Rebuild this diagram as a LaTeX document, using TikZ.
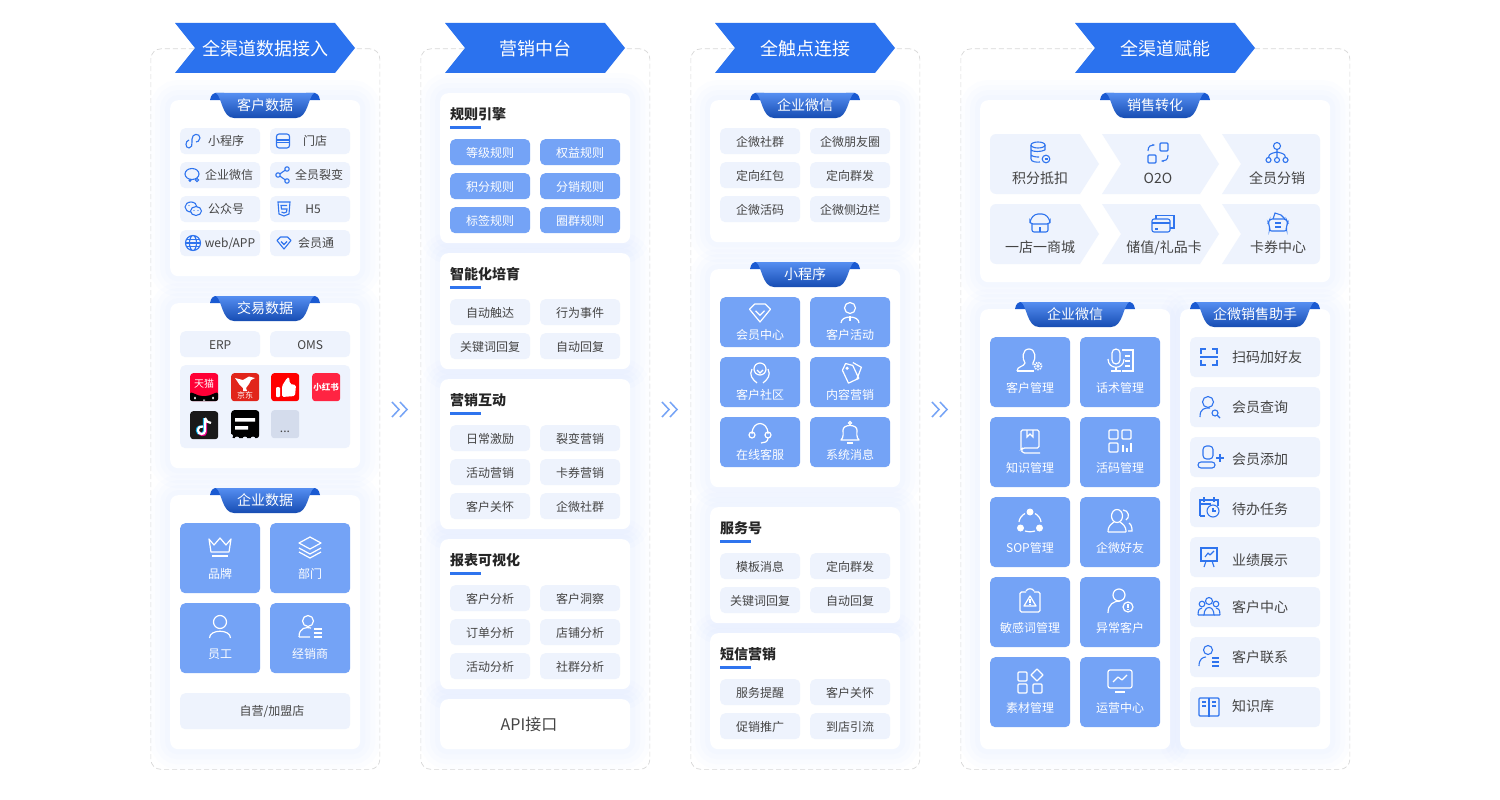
\documentclass[tikz,border=0pt]{standalone}
\usepackage{fontspec}
\setmainfont{Noto Sans CJK SC}
\usetikzlibrary{arrows.meta}
\definecolor{bannerblue}{HTML}{2B72EE}
\definecolor{tileblue}{HTML}{74A3F6}
\definecolor{tint}{HTML}{EEF3FD}
\definecolor{iconblue}{HTML}{2F74EE}
\definecolor{glowblue}{HTML}{C4D8FF}
\definecolor{inkgray}{HTML}{444444}
\definecolor{dashgray}{HTML}{D8D8D8}
\definecolor{ribbondark}{HTML}{1A5AD2}
\tikzset{
x=1pt, y=-1pt, % one unit is one pixel of the page
fs/.style={font=\fontsize{#1}{#1}\selectfont, text height=.88*#1 pt, text depth=.06*#1 pt},
panel/.style={draw=dashgray, dash pattern=on 5pt off 3pt, line width=.7pt, fill=white, rounded corners=10, anchor=north west, inner sep=0pt},
cardglow/.style={rounded corners=8, anchor=north west, inner sep=0pt, % soft glow behind each card
	preaction={draw=glowblue, line width=40pt, opacity=.04},
	preaction={draw=glowblue, line width=30pt, opacity=.05},
	preaction={draw=glowblue, line width=20pt, opacity=.05},
	preaction={draw=glowblue, line width=10pt, opacity=.06}},
card/.style={fill=white, rounded corners=8, anchor=north west, inner sep=0pt},
tile/.style={fill=tint, rounded corners=5, minimum width=80, minimum height=26, inner sep=0pt, anchor=north west, text=inkgray, fs=12},
btile/.style={tile, fill=tileblue, text=white},
bigtile/.style={btile, minimum height=70},
midtile/.style={btile, minimum height=50},
rowtile/.style={tile, minimum width=130, minimum height=40},
label/.style={text=inkgray, fs=12, inner sep=0pt},
wlabel/.style={text=white, fs=12, inner sep=0pt},
rowlabel/.style={text=inkgray, fs=14, inner sep=0pt, anchor=west},
arrowlabel/.style={text=inkgray, fs=14, inner sep=0pt},
heading/.style={text=black!85, fs=14, inner sep=0pt, anchor=west, font=\fontsize{14}{14}\selectfont\bfseries},
ico/.style={color=iconblue, line width=1.1pt},
wico/.style={color=white, line width=1.2pt},
logo/.style={minimum size=28, rounded corners=3, inner sep=0pt, anchor=north west},
% icons, drawn round their centre
icmini/.pic={\draw (-4,-1) .. controls (-8,0) and (-8,7) .. (-4,7) .. controls (-1,7) and (-1,4) .. (-1,1) -- (-1,-2) .. controls (-1,-8) and (7,-8) .. (7,-3) .. controls (7,0) and (4,1) .. (3,1);},
icstore/.pic={\draw[rounded corners=2.5] (-6.5,-7) rectangle (6.5,7); \draw (-6.5,-1) -- (6.5,-1) (-6.5,1.5) -- (6.5,1.5);},
icchat/.pic={\draw (0,-1) ellipse (7 and 5.5); \draw[fill=tint] (5,5) circle (1.6); \draw[fill=tint] (-2,5.5) circle (.9);},
icshare/.pic={\draw (-5,0) circle (2.2) (4,-6) circle (2.2) (4,6) circle (2.2); \draw (-3,-1.2) -- (2.2,-4.8) (-3,1.2) -- (2.2,4.8);},
icwx/.pic={\draw (-2,-2) ellipse (6 and 5); \draw[fill=tint] (3,2) ellipse (5.5 and 4.5); \fill (1,1.5) circle (.7) (5,1.5) circle (.7) (-4,-3.5) circle (.7);},
ich/.pic={\draw (-6,-7) -- (6,-7) -- (5,5) -- (0,7) -- (-5,5) -- cycle; \draw (3,-3.5) -- (-3,-3.5) -- (-2.5,0) -- (3,0) -- (2.5,3) -- (0,4) -- (-2.5,3);},
icglobe/.pic={\draw (0,0) circle (7.5) (0,0) ellipse (3.5 and 7.5); \draw (-7.5,0) -- (7.5,0) (-6.5,-3.5) -- (6.5,-3.5) (-6.5,3.5) -- (6.5,3.5);},
icgem/.pic={\draw[line join=round] (-7,-2.5) -- (-3.5,-6) -- (3.5,-6) -- (7,-2.5) -- (0,6) -- cycle; \draw (-3,-1.5) -- (0,1.5) -- (3,-1.5);},
iccrown/.pic={\draw[line join=round] (-11,-8) -- (-6,-2) -- (0,-9) -- (6,-2) -- (11,-8) -- (9,5) -- (-9,5) -- cycle; \draw (-8,9) -- (8,9);},
iclayers/.pic={\draw[line join=round] (0,-10) -- (11,-4) -- (0,2) -- (-11,-4) -- cycle; \draw (-11,1) -- (0,7) -- (11,1) (-11,5) -- (0,11) -- (11,5);},
icperson/.pic={\draw (0,-5) circle (6.5); \draw (-10.5,11) .. controls (-10.5,2) and (10.5,2) .. (10.5,11);},
icdealer/.pic={\draw (-2,-6) circle (5.5); \draw (-11,10) .. controls (-11,0) and (-3,0) .. (1,1) (-11,10) -- (0,10); \draw (4,2) -- (12,2) (4,6) -- (12,6) (4,10) -- (12,10);},
ictie/.pic={\draw (0,-5) circle (5.5); \draw (-9,10) .. controls (-9,2) and (9,2) .. (9,10); \draw (0,3) -- (0,8);},
ichands/.pic={\draw (0,-4) circle (6); \draw (-3,-3) -- (0,0) -- (3,-3); \draw (-8,-4) .. controls (-11,2) and (-8,6) .. (-3,10) (8,-4) .. controls (11,2) and (8,6) .. (3,10);},
ictags/.pic={\draw[line join=round, rotate=25] (-6,-6) -- (0,-11) -- (6,-6) -- (6,9) -- (-6,9) -- cycle; \draw (3,-11) -- (12,-6) -- (7,7); \draw (-3,-5) circle (1);},
icheadset/.pic={\draw (-8,1) .. controls (-8,-13) and (8,-13) .. (8,1); \draw (-8,2) circle (3) (8,2) circle (3); \draw (8,5) .. controls (8,9) and (4,10) .. (1,10);},
icbell/.pic={\draw[line join=round] (-9,7) .. controls (-6,4) and (-7,0) .. (-7,-3) .. controls (-7,-9) and (7,-9) .. (7,-3) .. controls (7,0) and (6,4) .. (9,7) -- cycle; \draw (0,-10) circle (1.5); \draw (-3,10) -- (3,10);},
icusergear/.pic={\draw (-13,10) .. controls (-13,5) and (-6,6) .. (-5,2) .. controls (-8,-2) and (-8,-12) .. (-1,-12) .. controls (6,-12) and (6,-2) .. (3,2) -- (3,4); \draw (-13,10) -- (4,10); \draw[dash pattern=on 1.4pt off 1pt, line width=1.6pt] (8,5) circle (3.6); \draw[line width=.8pt] (8,5) circle (1.3);},
icmicdoc/.pic={\draw[rounded corners=4] (-8,-12) rectangle (0,3); \draw (-12,-2) .. controls (-12,9) and (4,9) .. (4,-2); \draw (-4,6) -- (-4,10) (-9,10) -- (1,10); \draw (2,-11) -- (13,-11) -- (13,10) -- (2,10) (5,-5) -- (10,-5) (5,0) -- (10,0) (5,5) -- (10,5);},
icbookw/.pic={\draw[rounded corners=1.5] (-9,8) -- (-9,-11) -- (9,-11) -- (9,7) -- (-7,7) -- (-9,9) -- (-7,12) -- (10,12); \draw (-3,-11) -- (-3,-4) -- (0,-7) -- (3,-4) -- (3,-11);},
icqr/.pic={\draw[rounded corners=1] (-11,-11) rectangle (-2,-2) (2,-11) rectangle (11,-2) (-11,2) rectangle (-2,11); \draw (3,4) -- (3,11) (7,7) -- (7,11) (11,2) -- (11,11);},
icsop/.pic={\fill (0,-9) circle (3.5) (-9.5,7) circle (3.5) (9.5,7) circle (3.5); \draw (-5,-7.5) .. controls (-8,-6) and (-11,-2) .. (-11,1) (5,-7.5) .. controls (8,-6) and (11,-2) .. (11,1) (-5,10) .. controls (-2,11) and (2,11) .. (5,10);},
icfriends/.pic={\draw (-3,-5) ellipse (5.5 and 6.5); \draw (-12,11) .. controls (-12,4) and (-8,3) .. (-6,1) (0,1) .. controls (2,3) and (6,4) .. (6,11) (-12,11) -- (6,11); \draw (3,-11) .. controls (9,-11) and (10,-3) .. (6,-1) (9,2) .. controls (12,4) and (12,8) .. (12,10) -- (8,10);},
icalert/.pic={\draw[rounded corners=1.5] (-4,-9) -- (-10,-9) -- (-10,11) -- (10,11) -- (10,-9) -- (4,-9); \draw (-4,-10) .. controls (-3,-13) and (3,-13) .. (4,-10); \draw[line join=round] (0,-5) -- (6,5) -- (-6,5) -- cycle; \draw (0,-2) -- (0,1.5) (0,2.5) -- (0,3.5);},
icuseralert/.pic={\draw (-1,-6) circle (6); \draw (-12,12) .. controls (-12,3) and (-6,0) .. (0,0); \draw (8,6) circle (5); \draw[line width=1.6pt] (8,3) -- (8,6.5) (8,7.6) -- (8,9);},
icblocks/.pic={\draw[rounded corners=1] (-12,-9) rectangle (-3,0) (-12,3) rectangle (-3,12) (3,3) rectangle (12,12); \draw[line join=round] (7,-12) -- (13,-6) -- (7,0) -- (1,-6) -- cycle;},
icmonitor/.pic={\draw[rounded corners=2] (-12,-11) rectangle (12,7); \draw[line join=round] (-7,1) -- (-2,-4) -- (2,-1) -- (7,-6); \draw (-5,11) -- (5,11);},
icscan/.pic={\draw (-8,-3) -- (-8,-8) -- (-3,-8) (3,-8) -- (8,-8) -- (8,-3) (-8,3) -- (-8,8) -- (-3,8) (3,8) -- (8,8) -- (8,3) (-9,0) -- (9,0);},
icusersearch/.pic={\draw (-1,-5) circle (5.5); \draw (-9,10) .. controls (-9,1) and (-4,1) .. (1,1); \draw (6,6) circle (3); \draw (8,8) -- (11,11);},
icuseradd/.pic={\draw[rounded corners=3.5] (-6,-11) rectangle (4,2); \draw[rounded corners=3] (-11,5) rectangle (6,11); \draw (11,-3) -- (11,5) (7,1) -- (15,1);},
iccalendar/.pic={\draw (-9,9) -- (-9,-7) -- (9,-7) -- (9,-1) (-5,-10) -- (-5,-5) (5,-10) -- (5,-5) (-9,-3) -- (2,-3) (-9,9) -- (-4,9); \draw (4,4) circle (6); \draw (4,1) -- (4,4) -- (7,4);},
icpresent/.pic={\draw (-9,-9) -- (9,-9) (-8,-9) -- (-8,4) -- (8,4) -- (8,-9); \draw[line join=round] (-4,0) -- (-1,-4) -- (1,-2) -- (5,-6); \draw (-3,4) -- (-5,10) (3,4) -- (5,10);},
icgroup/.pic={\draw (0,-6) circle (3.5) (-7,-3) circle (2.8) (7,-3) circle (2.8); \draw (-5,8) .. controls (-5,-2) and (5,-2) .. (5,8) -- cycle; \draw (-11,8) .. controls (-11,2) and (-9,1) .. (-7,1) (11,8) .. controls (11,2) and (9,1) .. (7,1) (-11,8) -- (-5,8) (5,8) -- (11,8);},
icuserlist/.pic={\draw (-1,-7) circle (4.5); \draw (-10,9) .. controls (-10,2) and (-6,0) .. (-3,0); \draw[line width=1.5pt] (3,1) -- (10,1) (3,5) -- (10,5) (3,9) -- (10,9);},
icopenbook/.pic={\draw[rounded corners=1] (-10,-9) rectangle (10,9); \draw (0,-9) -- (0,10) (-7,-5) -- (-3,-5) (3,-5) -- (7,-5) (-7,-1) -- (-3,-1) (3,-1) -- (7,-1);},
icdb/.pic={\draw (-2,-8) ellipse (7 and 3); \draw (-9,-8) -- (-9,6) .. controls (-9,9) and (-3,9.5) .. (0,9) (5,-8) -- (5,-3) (-9,-3) .. controls (-7,-1) and (1,-1) .. (5,-3) (-9,2) .. controls (-7,4) and (-3,4) .. (-1,4); \draw (6,6) circle (3.8); \draw (4.5,6) -- (7.5,6);},
icotwo/.pic={\draw[rounded corners=1] (2,-10) rectangle (10,-2) (-10,2) rectangle (-2,10); \draw[-{Stealth[length=3pt]}] (-10,-2) .. controls (-10,-7) and (-7,-8) .. (-3,-8); \draw[-{Stealth[length=3pt]}] (10,2) .. controls (10,7) and (7,8) .. (3,8);},
icorg/.pic={\draw (0,-7) circle (3.5) (-8.5,7) circle (2.5) (0,7) circle (2.5) (8.5,7) circle (2.5); \draw (0,-3.5) -- (0,4.5) (-8.5,4.5) .. controls (-8.5,0) and (-3,0) .. (0,-1) (8.5,4.5) .. controls (8.5,0) and (3,0) .. (0,-1);},
icshop/.pic={\draw[rounded corners=2] (-8,0) -- (-8,9) -- (8,9) -- (8,0); \draw[rounded corners=3] (-5,-9) -- (5,-9) -- (10,-3) -- (10,1) -- (-10,1) -- (-10,-3) -- cycle; \draw (0,9) -- (0,4);},
iccards/.pic={\draw[rounded corners=2] (-11,-4) rectangle (7,9); \draw (-11,0) -- (7,0); \draw (-7,-4) -- (-7,-7.5) -- (11,-7.5) -- (11,5) -- (7,5); \fill (-8,5) rectangle (-5,6.5);},
icwallet/.pic={\draw[rounded corners=2.5] (-8,-3) -- (8,-3) -- (10,1) -- (8,5) -- (9,9) -- (-9,9) -- (-8,5) -- (-10,1) -- cycle; \draw (-5,-3) -- (-3,-9) -- (3,-7) -- (7,-3); \draw (-3,1) -- (3,1) (-3,5) -- (3,5);},
% double chevron between columns
dblchev/.pic={\draw[color=tileblue, line width=1.5pt] (-8,-7.5) -- (-1,0) -- (-8,7.5) (0,-7.5) -- (7,0) -- (0,7.5);},
}
% banner over a column: centre x, text
\newcommand{\banner}[3]{
	\fill[bannerblue] (#2-90,23) -- (#2+70,23) -- (#2+90,48) -- (#2+70,73) -- (#2-90,73) -- (#2-70,48) -- cycle;
	\node[text=white, fs=18, inner sep=0pt] (#1) at (#2,48) {#3};
}
% ribbon on top of a card: centre x, half width, top y, text
\newcommand{\ribbon}[5]{
	\fill[ribbondark] (#2-#3,#4+7) .. controls (#2-#3+1,#4+2) and (#2-#3+3,#4) .. (#2-#3+5,#4) -- (#2-#3+14,#4) -- (#2-#3+14,#4+7) -- cycle;
	\fill[ribbondark] (#2+#3,#4+7) .. controls (#2+#3-1,#4+2) and (#2+#3-3,#4) .. (#2+#3-5,#4) -- (#2+#3-14,#4) -- (#2+#3-14,#4+7) -- cycle;
	\shade[top color=bannerblue!80!white, bottom color=ribbondark!85!black] (#2-#3+6,#4) -- (#2+#3-6,#4) .. controls (#2+#3-12,#4+4) and (#2+#3-12,#4+25) .. (#2+#3-24,#4+25) -- (#2-#3+24,#4+25) .. controls (#2-#3+12,#4+25) and (#2-#3+12,#4+4) .. (#2-#3+6,#4) -- cycle;
	\node[text=white, fs=14, inner sep=0pt] (#1) at (#2,#4+12) {#5};
}
\begin{document}
\begin{tikzpicture}
	\useasboundingbox (0,0) rectangle (1500,800);
	\fill[white] (0,0) rectangle (1500,800);
	% dashed panels
	\node[panel, minimum width=229, minimum height=720.5] (colA) at (150.5,48.5) {};
	\node[panel, minimum width=229, minimum height=720.5] (colB) at (420.5,48.5) {};
	\node[panel, minimum width=229, minimum height=720.5] (colC) at (690.5,48.5) {};
	\node[panel, minimum width=389, minimum height=720.5] (colD) at (960.5,48.5) {};
	\banner{banA}{265}{全渠道数据接入}
	\banner{banB}{535}{营销中台}
	\banner{banC}{805}{全触点连接}
	\banner{banD}{1165}{全渠道赋能}
	\foreach \gx in {400,670,940}
		\pic at (\gx,409.5) {dblchev};

	% cards, all glows first so that none falls on a card
	\foreach \nm/\cx/\cy/\cw/\ch in {cardA1/170/100/190/176, cardA2/170/303/190/165, cardA3/170/495/190/254,
		cardB1/440/93/190/150, cardB2/440/253/190/116, cardB3/440/379/190/150, cardB4/440/539/190/150, cardB5/440/699/190/50,
		cardC1/710/100/190/142, cardC2/710/269/190/218, cardC3/710/507/190/116, cardC4/710/633/190/116,
		cardD1/980/100/350/182, cardD2/980/309/190/440, cardD3/1180/309/150/440}
		\node[cardglow, minimum width=\cw, minimum height=\ch] (\nm g) at (\cx,\cy) {};
	\foreach \nm/\cx/\cy/\cw/\ch in {cardA1/170/100/190/176, cardA2/170/303/190/165, cardA3/170/495/190/254,
		cardB1/440/93/190/150, cardB2/440/253/190/116, cardB3/440/379/190/150, cardB4/440/539/190/150, cardB5/440/699/190/50,
		cardC1/710/100/190/142, cardC2/710/269/190/218, cardC3/710/507/190/116, cardC4/710/633/190/116,
		cardD1/980/100/350/182, cardD2/980/309/190/440, cardD3/1180/309/150/440}
		\node[card, minimum width=\cw, minimum height=\ch] (\nm) at (\cx,\cy) {};

	% first column
	\ribbon{ribA1}{265}{55}{93}{客户数据}
	\ribbon{ribA2}{265}{55}{296}{交易数据}
	\ribbon{ribA3}{265}{55}{488}{企业数据}
	\foreach \nm/\px/\py/\lx/\lb/\ic/\ix in {a1/180/128/226/小程序/icmini/193, a2/270/128/315/门店/icstore/283,
		a3/180/162/229/企业微信/icchat/192, a4/270/162/319/全员裂变/icshare/283,
		a5/180/196/226/公众号/icwx/193, a6/270/196/313/H5/ich/284,
		a8/270/230/316/会员通/icgem/284}{
		\node[tile] (\nm) at (\px,\py) {};
		\node[label] (\nm t) at (\lx,\py+13) {\lb};
		\pic[ico] at (\ix,\py+13) {\ic};
	}
	\node[tile] (a7) at (180,230) {};
	\node[label] (a7t) at (230,243) {web/APP};
	\pic[ico] at (193,243) {icglobe};
	\node[tile] (erp) at (180,331) {ERP};
	\node[tile] (oms) at (270,331) {OMS};
	\node[tile, minimum width=170, minimum height=83] (shops) at (180,365) {};
	\node[logo, fill={rgb,255:red,255;green,0;blue,54}] (tmall) at (190,373) {};
	\fill[black] (190,401) [rounded corners=2] -- (190,392) -- (194,393.5) -- (200,396) -- (208,396) -- (214,393.5) -- (218,392) -- (218,401) -- cycle;
	\fill[white] (195,398) ellipse (1 and 1.5) (213,398) ellipse (1 and 1.5) (203,399.5) rectangle (205,400.5);
	\node[text=white, inner sep=0pt, fs=10] (tmallt) at (204,383) {天猫};
	\node[logo, fill={rgb,255:red,225;green,37;blue,27}] (jd) at (231,373) {};
	\fill[white] (235,378) -- (243,380) -- (249,376.5) -- (255,378) -- (251,380) -- (249,384) -- (246,388) -- (247,391) -- (243,391) -- (243,388) -- (239,384) -- cycle;
	\node[text=white, inner sep=0pt, fs=8] (jdt) at (245,395) {京东};
	\node[logo, fill=red] (thumb) at (271,373) {};
	\fill[white, rounded corners=1] (276,387) rectangle (280,397);
	\fill[white, rounded corners=1.5] (282,386) -- (287,378) -- (289,377) -- (290,384) -- (296,385) -- (295,396) -- (282,397) -- cycle;
	\node[logo, fill={rgb,255:red,255;green,36;blue,66}] (redbook) at (312,373) {};
	\node[text=white, inner sep=0pt, fs=8.5, font=\fontsize{8.5}{8.5}\selectfont\bfseries] (redbookt) at (326,387) {小红书};
	\node[logo, fill=black!90] (tiktok) at (190,411) {};
	\draw[cyan, line width=2.4pt] (204,418) -- (204,431) .. controls (204,435) and (197,435) .. (197,430.5) .. controls (197,427) and (200,426) .. (202,426.5);
	\draw[magenta, line width=2.4pt] (206,419) -- (206,432) .. controls (206,436) and (199,436) .. (199,431.5);
	\draw[white, line width=2.2pt] (205,418) -- (205,431) .. controls (205,435) and (198,435) .. (198,430.5) .. controls (198,427) and (201,426) .. (203,426.5) (205,418) .. controls (206,421) and (208,423) .. (211,423);
	\node[logo, fill=black] (receipt) at (231,410) {};
	\fill[tint] (231,436) circle (2) (237,439) circle (2.4) (245,439) circle (2.4) (253,439) circle (2.4);
	\fill[white] (235,418) rectangle (255,421.5) (235,426) rectangle (248,429.5);
	\node[logo, fill={rgb,255:red,212;green,220;blue,236}] (more) at (271,410) {};
	\node[text=inkgray, inner sep=0pt, fs=12] (moret) at (285,428) {...};
	\foreach \nm/\px/\py/\lb/\ic in {a9/180/523/品牌/iccrown, a10/270/523/部门/iclayers, a11/180/603/员工/icperson, a12/270/603/经销商/icdealer}{
		\node[bigtile] (\nm) at (\px,\py) {};
		\node[wlabel] (\nm t) at (\px+40,\py+51) {\lb};
		\pic[wico] at (\px+40,\py+24) {\ic};
	}
	\node[tile, minimum width=170, minimum height=36] (selfshop) at (180,693) {};
	\node[label] (selfshopt) at (272,711) {自营/加盟店};

	% second column
	\foreach \nm/\hy/\lb in {headB1/114/规则引擎, headB2/274/智能化培育, headB3/400/营销互动, headB4/560/报表可视化}{
		\node[heading] (\nm) at (450,\hy) {\lb};
		\fill[iconblue] (450,\hy+12) rectangle (481,\hy+15);
	}
	\foreach \nm/\px/\py/\lb in {b1/450/139/等级规则, b2/540/139/权益规则, b3/450/173/积分规则, b4/540/173/分销规则, b5/450/207/标签规则, b6/540/207/圈群规则}
		\node[btile] (\nm) at (\px,\py) {\lb};
	\foreach \nm/\px/\py/\lb in {b7/450/299/自动触达, b8/540/299/行为事件, b9/450/333/关键词回复, b10/540/333/自动回复,
		b11/450/425/日常激励, b12/540/425/裂变营销, b13/450/459/活动营销, b14/540/459/卡券营销, b15/450/493/客户关怀, b16/540/493/企微社群,
		b17/450/585/客户分析, b18/540/585/客户洞察, b19/450/619/订单分析, b20/540/619/店铺分析, b21/450/653/活动分析, b22/540/653/社群分析}
		\node[tile] (\nm) at (\px,\py) {\lb};
	\node[text=inkgray, fs=16, inner sep=0pt] (api) at (529,724) {API接口};

	% third column
	\ribbon{ribC1}{805}{55}{93}{企业微信}
	\ribbon{ribC2}{805}{55}{262}{小程序}
	\foreach \nm/\px/\py/\lb in {c1/720/128/企微社群, c2/810/128/企微朋友圈, c3/720/162/定向红包, c4/810/162/定向群发, c5/720/196/企微活码, c6/810/196/企微侧边栏,
		c7/720/553/模板消息, c8/810/553/定向群发, c9/720/587/关键词回复, c10/810/587/自动回复,
		c11/720/679/服务提醒, c12/810/679/客户关怀, c13/720/713/促销推广, c14/810/713/到店引流}
		\node[tile] (\nm) at (\px,\py) {\lb};
	\foreach \nm/\px/\py/\lb/\ic/\sc in {c15/720/297/会员中心/icgem/1.5, c16/810/297/客户活动/ictie/1, c17/720/357/客户社区/ichands/1, c18/810/357/内容营销/ictags/.95, c19/720/417/在线客服/icheadset/1, c20/810/417/系统消息/icbell/1}{
		\node[midtile] (\nm) at (\px,\py) {};
		\node[wlabel] (\nm t) at (\px+40,\py+38) {\lb};
		\pic[wico, scale=\sc] at (\px+40,\py+16) {\ic};
	}
	\foreach \nm/\hy/\lb in {headC3/528/服务号, headC4/654/短信营销}{
		\node[heading] (\nm) at (720,\hy) {\lb};
		\fill[iconblue] (720,\hy+12) rectangle (751,\hy+15);
	}

	% fourth column
	\ribbon{ribD1}{1155}{55}{93}{销售转化}
	\ribbon{ribD2}{1075}{60}{302}{企业微信}
	\ribbon{ribD3}{1255}{65}{302}{企微销售助手}
	\foreach \ay in {134,204}{
		\fill[tint, rounded corners=6] (1040,\ay) [sharp corners] -- (1080,\ay) -- (1099,\ay+30) -- (1080,\ay+60) [rounded corners=6] -- (990,\ay+60) -- (990,\ay) -- cycle;
		\fill[tint] (1102,\ay) -- (1200,\ay) -- (1219,\ay+30) -- (1200,\ay+60) -- (1102,\ay+60) -- (1121,\ay+30) -- cycle;
		\fill[tint, rounded corners=6] (1270,\ay) [rounded corners=6] -- (1320,\ay) -- (1320,\ay+60) [sharp corners] -- (1222,\ay+60) -- (1241,\ay+30) -- (1222,\ay) -- cycle;
	}
	\foreach \nm/\lx/\ly/\lb/\ic/\iy in {d1/1040/178/积分抵扣/icdb/153, d2/1158/178/O2O/icotwo/153, d3/1277/178/全员分销/icorg/153,
		d4/1040/247/一店一商城/icshop/223, d6/1278/247/卡券中心/icwallet/222}{
		\node[arrowlabel] (\nm) at (\lx,\ly) {\lb};
		\pic[ico] at (\lx,\iy) {\ic};
	}
	\node[arrowlabel] (d5) at (1164,247) {储值/礼品卡};
	\pic[ico] at (1163,223) {iccards};
	\foreach \nm/\px/\py/\lb/\ic in {e1/990/337/客户管理/icusergear, e2/1080/337/话术管理/icmicdoc, e3/990/417/知识管理/icbookw, e4/1080/417/活码管理/icqr,
		e5/990/497/SOP管理/icsop, e6/1080/497/企微好友/icfriends, e7/990/577/敏感词管理/icalert, e8/1080/577/异常客户/icuseralert,
		e9/990/657/素材管理/icblocks, e10/1080/657/运营中心/icmonitor}{
		\node[bigtile] (\nm) at (\px,\py) {};
		\node[wlabel] (\nm t) at (\px+40,\py+51) {\lb};
		\pic[wico] at (\px+40,\py+24) {\ic};
	}
	\foreach \nm/\py/\lb/\ic/\ly in {f1/337/扫码加好友/icscan/357, f2/387/会员查询/icusersearch/407, f3/437/会员添加/icuseradd/459, f4/487/待办任务/iccalendar/509,
		f5/537/业绩展示/icpresent/560, f6/587/客户中心/icgroup/607, f7/637/客户联系/icuserlist/657, f8/687/知识库/icopenbook/706}{
		\node[rowtile] (\nm) at (1190,\py) {};
		\node[rowlabel] (\nm t) at (1232,\ly) {\lb};
		\pic[ico] at (1209,\py+20) {\ic};
	}
\end{tikzpicture}
\end{document}
